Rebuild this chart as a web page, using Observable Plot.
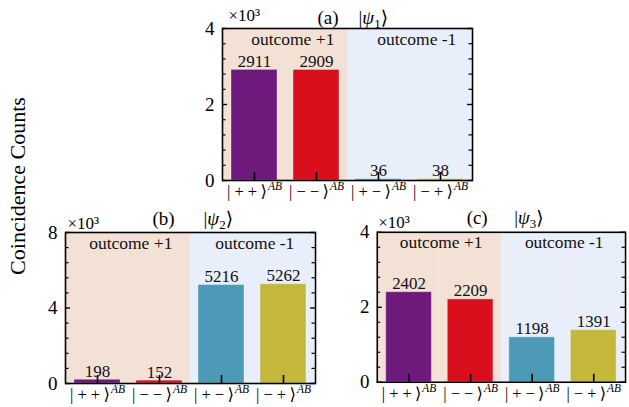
<!DOCTYPE html>
<html><head><meta charset="utf-8">
<script src="https://cdn.jsdelivr.net/npm/d3@7"></script>
<script src="https://cdn.jsdelivr.net/npm/@observablehq/plot@0.6"></script>
<style>
body{margin:0;background:#fff;width:629px;height:407px;overflow:hidden;position:relative;font-family:"Liberation Serif","DejaVu Serif",serif;color:#000;}
.panel{position:absolute;}
.panel svg{overflow:visible;}
#ylab{position:absolute;left:18px;top:186px;transform:translate(-50%,-50%) rotate(-90deg);white-space:nowrap;font-size:22px;}
</style></head><body>
<div id="ylab">Coincidence Counts</div>
<div id="pa" class="panel"></div>
<div id="pb" class="panel"></div>
<div id="pc" class="panel"></div>
<script>
const states = ["| + +\u2009\u27E9", "| \u2212 \u2212\u2009\u27E9", "| + \u2212\u2009\u27E9", "| \u2212 +\u2009\u27E9"];
const stateSup = "AB";
const outcomes = ["outcome +1", "outcome -1"];
const countsA = [2911, 2909, 36, 38];
const countsB = [198, 152, 5216, 5262];
const countsC = [2402, 2209, 1198, 1391];
const barColors = ["#6e1a7d", "#d90f1e", "#4c9ab5", "#c3b83b"];
const bgColors = ["#f3e1d6", "#e8eefa"];
const majorTicks4 = [0, 2000, 4000];
const minorTicks4 = [400, 800, 1200, 1600, 2400, 2800, 3200, 3600];
const majorTicks8 = [0, 4000, 8000];
const minorTicks8 = [800, 1600, 2400, 3200, 4800, 5600, 6400, 7200];
const tags = ["(a)", "(b)", "(c)"];
const psiNames = ["1", "2", "3"];
const expLabel = "\u00D710\u00B3";

const FONT = '"Liberation Serif","DejaVu Serif",serif';

function panel(o) {
  const W = 250, H = o.H, mL = 34, mR = 4, mT = 30, mB = 28;
  const data = states.map((s, i) => ({s, v: o.counts[i], c: barColors[i], bg: bgColors[i < 2 ? 0 : 1]}));
  const step = W / 4;
  const svg = Plot.plot({
    width: W + mL + mR, height: H + mT + mB,
    marginLeft: mL, marginRight: mR, marginTop: mT, marginBottom: mB,
    style: {fontFamily: FONT, background: "none", overflow: "visible", color: "#000"},
    x: {domain: states, paddingInner: 0.26, paddingOuter: 0.13, label: null},
    y: {domain: [0, o.ymax], label: null},
    color: {type: "identity"},
    marks: [
      Plot.barY(data, {x: "s", y1: 0, y2: () => o.ymax, fill: "bg", insetLeft: -0.131 * step, insetRight: -0.131 * step}),
      Plot.barY(data, {x: "s", y: "v", fill: "c", stroke: "#ffffff", strokeOpacity: 0.35, strokeWidth: 1}),
      Plot.ruleX(data, {x: "s", insetTop: H - 8, stroke: "#000", strokeWidth: 1.6}),
      Plot.ruleY(o.minors, {insetRight: W - 3.5, stroke: "#000", strokeWidth: 1.2}),
      Plot.ruleY(o.minors, {insetLeft: W - 3.5, stroke: "#000", strokeWidth: 1.2}),
      Plot.ruleY(o.majors, {insetRight: W - 5, stroke: "#000", strokeWidth: 1.4}),
      Plot.ruleY(o.majors, {insetLeft: W - 5, stroke: "#000", strokeWidth: 1.4}),
      Plot.frame({stroke: "#000", strokeWidth: 1.6}),
      Plot.text(data, {x: "s", y: "v", text: d => String(d.v), lineAnchor: "bottom", dy: -3, fontSize: 17, fill: "#111"}),
      Plot.text(outcomes, {x: (d, i) => states[i * 2], y: () => o.ymax, text: d => d, dx: step / 2 + o.outDx, dy: 16, lineAnchor: "bottom", fontSize: 17.5, fill: "#111"}),
      Plot.axisY({ticks: o.majors, tickSize: 0, tickPadding: 8, tickFormat: d => d / 1000, fontSize: 19, label: null}),
      Plot.axisX({tickSize: 0, tickPadding: 5, fontSize: 16.5, label: null}),
      Plot.text([o.tag], {frameAnchor: "top-left", dx: o.tagDx, dy: o.tagDy, text: d => d, textAnchor: "start", lineAnchor: "bottom", fontSize: 19}),
      Plot.text(["|\u03C8" + o.psi + "\u27E9"], {frameAnchor: "top-left", dx: o.psiDx, dy: o.tagDy, text: d => d, textAnchor: "start", lineAnchor: "bottom", fontSize: 19}),
      Plot.text([expLabel], {frameAnchor: "top-left", dx: o.expDx, dy: o.expDy, text: d => d, textAnchor: "start", lineAnchor: "bottom", fontSize: 17})
    ]
  });
  d3.select(svg).selectAll('g[aria-label="x-axis tick label"] text').each(function () {
    d3.select(this).append("tspan").attr("font-style", "italic").attr("font-size", 11.5).attr("dy", -7).attr("dx", 1).text(stateSup);
  });
  d3.select(svg).selectAll("text").each(function () {
    const t = this.textContent;
    if (t.startsWith("|\u03C8")) {
      const sel = d3.select(this);
      const sub = t.slice(2, -1);
      sel.text("|");
      sel.append("tspan").attr("font-style", "italic").text("\u03C8");
      sel.append("tspan").attr("font-size", 13).attr("dy", 4).text(sub);
      sel.append("tspan").attr("dy", -4).text("\u27E9");
    }
  });
  const el = document.getElementById(o.el);
  el.style.left = (o.left - mL) + "px";
  el.style.top = (o.top - mT) + "px";
  el.appendChild(svg);
}

panel({el: "pa", counts: countsA, ymax: 4000, majors: majorTicks4, minors: minorTicks4, tag: tags[0], psi: psiNames[0],
  left: 222, top: 28, H: 152, outDx: 7, tagDx: 95, psiDx: 136, tagDy: -5, expDx: 6, expDy: -8});
panel({el: "pb", counts: countsB, ymax: 8000, majors: majorTicks8, minors: minorTicks8, tag: tags[1], psi: psiNames[1],
  left: 65, top: 232, H: 151, outDx: 2, tagDx: 87, psiDx: 138, tagDy: -8, expDx: 2, expDy: -4});
panel({el: "pc", counts: countsC, ymax: 4000, majors: majorTicks4, minors: minorTicks4, tag: tags[2], psi: psiNames[2],
  left: 377, top: 232, H: 151, outDx: 1, tagDx: 90, psiDx: 138, tagDy: -8, expDx: 1, expDy: -4});
</script>
</body></html>
